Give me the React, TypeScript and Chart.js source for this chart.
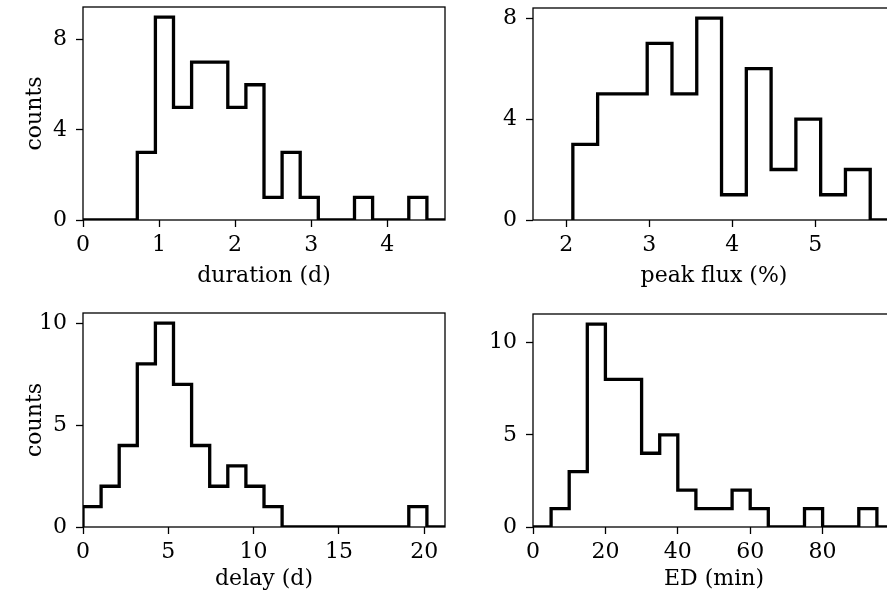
import React, { useEffect, useRef } from "react";
import { Chart, registerables } from "chart.js";

Chart.register(...registerables);

// Histogram data (bin range [lo, hi], equal-width bins, counts per bin)
const durationRange = [0, 4.76];
const durationCounts = [0, 0, 0, 3, 9, 5, 7, 7, 5, 6, 1, 3, 1, 0, 0, 1, 0, 0, 1, 0];
const durationXTicks = [0, 1, 2, 3, 4];
const durationYTicks = [0, 4, 8];

const peakRange = [2.08, 5.96];
const peakCounts = [3, 5, 5, 7, 5, 8, 1, 6, 2, 4, 1, 2, 0];
const peakXTicks = [2, 3, 4, 5];
const peakYTicks = [0, 4, 8];

const delayRange = [0, 21.22];
const delayCounts = [1, 2, 4, 8, 10, 7, 4, 2, 3, 2, 1, 0, 0, 0, 0, 0, 0, 0, 1, 0];
const delayXTicks = [0, 5, 10, 15, 20];
const delayYTicks = [0, 5, 10];

const edRange = [0, 100];
const edCounts = [0, 1, 3, 11, 8, 8, 4, 5, 2, 1, 1, 2, 1, 0, 0, 1, 0, 0, 1, 0];
const edXTicks = [0, 20, 40, 60, 80];
const edYTicks = [0, 5, 10];

const FONT = "'DejaVu Serif', serif";
const FSIZE = 22;

function stepPoints(range: number[], counts: number[]) {
  const n = counts.length;
  const w = (range[1] - range[0]) / n;
  const pts: { x: number; y: number }[] = [{ x: range[0], y: 0 }];
  counts.forEach((c, i) => pts.push({ x: range[0] + i * w, y: c }));
  pts.push({ x: range[1], y: 0 });
  return pts;
}

const framePlugin = {
  id: "frame",
  afterDatasetsDraw(chart: any) {
    const { ctx, chartArea } = chart;
    ctx.save();
    ctx.strokeStyle = "#000";
    ctx.lineWidth = 1.3;
    ctx.strokeRect(chartArea.left, chartArea.top, chartArea.right - chartArea.left, chartArea.bottom - chartArea.top);
    ctx.restore();
  },
};

type PanelProps = {
  left: number;
  top: number;
  width: number;
  height: number;
  padTop: number;
  padRight: number;
  yAxisWidth: number;
  xAxisHeight: number;
  titlePad: number;
  range: number[];
  counts: number[];
  xMin: number;
  xMax: number;
  yMax: number;
  xTicks: number[];
  yTicks: number[];
  xLabel: string;
  yLabel?: string;
};

function Panel(p: PanelProps) {
  const ref = useRef<HTMLCanvasElement>(null);
  useEffect(() => {
    if (!ref.current) return;
    const chart = new Chart(ref.current, {
      type: "line",
      data: {
        datasets: [
          {
            data: stepPoints(p.range, p.counts),
            stepped: true,
            borderColor: "#000",
            borderWidth: 3.3,
            borderJoinStyle: "miter",
            borderCapStyle: "butt",
            pointRadius: 0,
            fill: false,
          } as any,
        ],
      },
      options: {
        animation: false,
        responsive: false,
        events: [],
        layout: { padding: { top: p.padTop, right: p.padRight, left: 0, bottom: 0 } },
        plugins: { legend: { display: false }, tooltip: { enabled: false } },
        scales: {
          x: {
            type: "linear",
            min: p.xMin,
            max: p.xMax,
            afterBuildTicks: (s: any) => {
              s.ticks = p.xTicks.map((v) => ({ value: v }));
            },
            afterFit: (s: any) => {
              s.height = p.xAxisHeight;
              s.paddingLeft = 0;
              s.paddingRight = 0;
            },
            border: { display: false },
            grid: { drawOnChartArea: false, drawTicks: true, tickLength: 7, tickWidth: 1.3, tickColor: "#000" },
            ticks: {
              autoSkip: false,
              maxRotation: 0,
              padding: 5,
              color: "#000",
              font: { family: FONT, size: FSIZE },
              callback: (v: any) => String(v),
            },
            title: {
              display: true,
              text: p.xLabel,
              color: "#000",
              font: { family: FONT, size: FSIZE },
              padding: { top: 0, bottom: p.titlePad },
            },
          },
          y: {
            type: "linear",
            min: 0,
            max: p.yMax,
            afterBuildTicks: (s: any) => {
              s.ticks = p.yTicks.map((v) => ({ value: v }));
            },
            afterFit: (s: any) => {
              s.width = p.yAxisWidth;
              s.paddingTop = 0;
              s.paddingBottom = 0;
            },
            border: { display: false },
            grid: { drawOnChartArea: false, drawTicks: true, tickLength: 7, tickWidth: 1.3, tickColor: "#000" },
            ticks: {
              autoSkip: false,
              padding: 9,
              color: "#000",
              font: { family: FONT, size: FSIZE },
              callback: (v: any) => String(v),
            },
            title: {
              display: !!p.yLabel,
              text: p.yLabel || "",
              color: "#000",
              font: { family: FONT, size: FSIZE },
              padding: { top: 22, bottom: 0 },
            },
          },
        },
      },
      plugins: [framePlugin],
    } as any);
    return () => chart.destroy();
  }, []);
  return (
    <canvas
      ref={ref}
      width={p.width}
      height={p.height}
      style={{ position: "absolute", left: p.left, top: p.top, width: p.width, height: p.height }}
    />
  );
}

export default function App() {
  return (
    <div
      style={{
        position: "absolute",
        left: 0,
        top: 0,
        width: 887,
        height: 596,
        overflow: "hidden",
        background: "#fff",
      }}
    >
      <Panel
        left={0} top={0} width={450} height={290}
        padTop={7} padRight={5} yAxisWidth={83} xAxisHeight={70} titlePad={1}
        range={durationRange} counts={durationCounts}
        xMin={0} xMax={4.76} yMax={9.45}
        xTicks={durationXTicks} yTicks={durationYTicks}
        xLabel="duration (d)" yLabel="counts"
      />
      <Panel
        left={450} top={0} width={450} height={290}
        padTop={8} padRight={5} yAxisWidth={83} xAxisHeight={70} titlePad={1}
        range={peakRange} counts={peakCounts}
        xMin={1.6} xMax={5.96} yMax={8.4}
        xTicks={peakXTicks} yTicks={peakYTicks}
        xLabel="peak flux (%)"
      />
      <Panel
        left={0} top={300} width={450} height={296}
        padTop={13} padRight={5} yAxisWidth={83} xAxisHeight={69} titlePad={4}
        range={delayRange} counts={delayCounts}
        xMin={0} xMax={21.22} yMax={10.5}
        xTicks={delayXTicks} yTicks={delayYTicks}
        xLabel="delay (d)" yLabel="counts"
      />
      <Panel
        left={450} top={300} width={450} height={296}
        padTop={14} padRight={5} yAxisWidth={83} xAxisHeight={69} titlePad={4}
        range={edRange} counts={edCounts}
        xMin={0} xMax={100} yMax={11.55}
        xTicks={edXTicks} yTicks={edYTicks}
        xLabel="ED (min)"
      />
    </div>
  );
}
